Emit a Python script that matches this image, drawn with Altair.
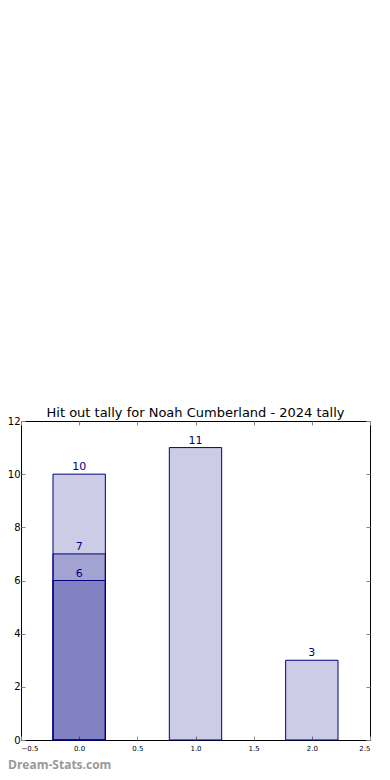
import altair as alt
import pandas as pd

# data
positions = [0, 0, 0, 1, 2]
values = [10, 7, 6, 11, 3]
order = [0, 1, 2, 3, 4]
x_ticks = [-0.5, 0.0, 0.5, 1.0, 1.5, 2.0, 2.5]
y_ticks = [0, 2, 4, 6, 8, 10, 12]
title_text = "Hit out tally for Noah Cumberland - 2024 tally"
watermark = "Dream-Stats.com"

df = pd.DataFrame({"pos": positions, "val": values, "ord": order})

W, H = 349, 319
FONT = "DejaVu Sans"
NAVY = "#000080"

xs = alt.Scale(domain=[-0.5, 2.5], nice=False, zero=False)
ys = alt.Scale(domain=[0, 12], nice=False, zero=True)

base = alt.Chart(df).transform_calculate(
    x0="datum.pos - 0.225", x1="datum.pos + 0.225"
)

bars = base.mark_bar(
    color=NAVY, fillOpacity=0.2, stroke=NAVY, strokeWidth=1, strokeOpacity=1
).encode(
    x=alt.X("x0:Q", scale=xs, axis=alt.Axis(
        orient="bottom", values=x_ticks, format=".1f", title=None,
        ticks=False, domain=False, grid=False, labelFontSize=7,
        labelPadding=4, labelColor="black", labelFont=FONT)),
    x2="x1:Q",
    y=alt.Y("val:Q", scale=ys, axis=alt.Axis(
        orient="left", values=y_ticks, title=None, ticks=False,
        domain=False, grid=False, labelFontSize=10, labelPadding=1,
        labelColor="black", labelFont=FONT)),
    y2=alt.datum(0),
    order=alt.Order("ord:Q"),
)

labels = base.mark_text(
    color=NAVY, fontSize=11, font=FONT, baseline="bottom", dy=-2
).encode(
    x=alt.X("pos:Q", scale=xs, axis=None),
    y=alt.Y("val:Q", scale=ys, axis=None),
    text="val:Q",
)

tick_style = dict(labels=False, domain=False, grid=False, title=None,
                  tickSize=4, tickColor="#888888", tickWidth=1)

ticks_a = base.mark_point(opacity=0).encode(
    x=alt.X("pos:Q", scale=xs, axis=alt.Axis(orient="top", offset=-H,
                                             values=x_ticks, **tick_style)),
    y=alt.Y("val:Q", scale=ys, axis=alt.Axis(orient="right", offset=-W,
                                             values=y_ticks, **tick_style)),
)
ticks_b = base.mark_point(opacity=0).encode(
    x=alt.X("pos:Q", scale=xs, axis=alt.Axis(orient="bottom", offset=-H,
                                             values=x_ticks, **tick_style)),
    y=alt.Y("val:Q", scale=ys, axis=alt.Axis(orient="left", offset=-W,
                                             values=y_ticks, **tick_style)),
)

wm = alt.Chart(pd.DataFrame({"t": [watermark]})).mark_text(
    color="#999999", fontSize=12, fontWeight="bold", font="Open Sans",
    align="left", baseline="bottom"
).encode(x=alt.value(-13), y=alt.value(H + 32), text="t:N")

chart = alt.layer(bars, labels, ticks_a, ticks_b, wm).resolve_scale(
    x="independent", y="independent"
).resolve_axis(x="independent", y="independent").properties(
    width=W, height=H,
    title=alt.TitleParams(title_text, fontSize=13, font=FONT,
                          fontWeight="normal", color="black", offset=-4),
    autosize=alt.AutoSizeParams(type="none"),
    padding={"left": 13, "top": 413, "right": 12, "bottom": 32},
).configure_view(stroke="black", strokeWidth=1)

chart.save("out.html", embed_options={"renderer": "svg", "actions": False})
